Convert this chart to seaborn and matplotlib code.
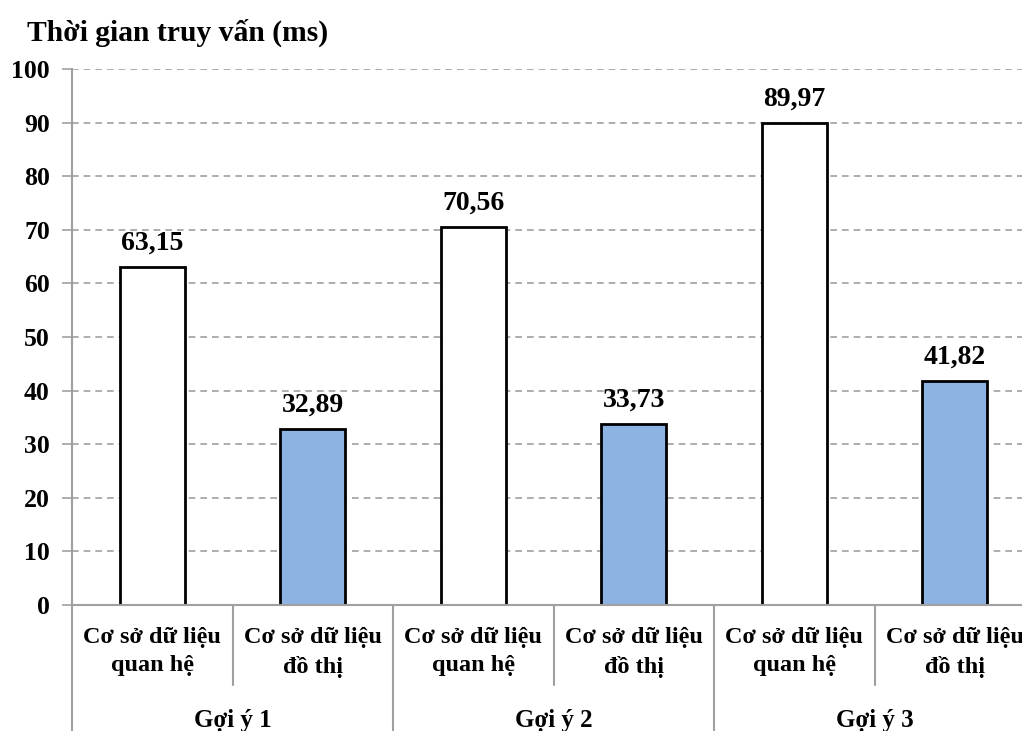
import matplotlib
matplotlib.use("Agg")
import matplotlib.pyplot as plt
import matplotlib.transforms as mtransforms
import seaborn as sns
import pandas as pd

# Query times (ms) for each hint and database type
groups = ["Gợi ý 1", "Gợi ý 2", "Gợi ý 3"]
db_types = ["Cơ sở dữ liệu\nquan hệ", "Cơ sở dữ liệu\nđồ thị"]
relational_ms = [63.15, 70.56, 89.97]
graph_ms = [32.89, 33.73, 41.82]
y_ticks = [0, 10, 20, 30, 40, 50, 60, 70, 80, 90, 100]

rows = []
for g, r, gr in zip(groups, relational_ms, graph_ms):
    rows.append({"key": g + "|" + db_types[0], "group": g, "db": db_types[0], "ms": r})
    rows.append({"key": g + "|" + db_types[1], "group": g, "db": db_types[1], "ms": gr})
df = pd.DataFrame(rows)

sns.set_theme(style="white")
plt.rcParams["font.family"] = ["Liberation Serif", "DejaVu Serif"]
plt.rcParams["font.weight"] = "bold"
plt.rcParams["text.color"] = "black"
plt.rcParams["ytick.color"] = "black"

fig = plt.figure(figsize=(10.22, 7.31), dpi=100)
ax = fig.add_axes([72 / 1022, 126 / 731, 963 / 1022, 536 / 731])

sns.barplot(
    data=df, x="key", y="ms", hue="db", dodge=False, saturation=1,
    palette={db_types[0]: "#FFFFFF", db_types[1]: "#8DB3E2"},
    edgecolor="black", linewidth=2.0, width=0.405, ax=ax, legend=False,
)

ax.set_ylim(0, 100)
ax.set_xlim(-0.5, len(df) - 0.5)
ax.set_yticks(y_ticks)
ax.set_yticklabels([str(t) for t in y_ticks], fontsize=18.5, fontweight="bold")
ax.tick_params(axis="y", length=7, width=1.2, color="#A0A0A0", pad=9,
               left=True, labelcolor="black")
ax.tick_params(axis="x", length=0, labelbottom=False)
ax.set_xlabel("")
ax.set_ylabel("")

for t in y_ticks[1:]:
    ax.axhline(t, color="#A0A0A0", linewidth=1.2, linestyle=(0, (4, 3)), zorder=0)

for side in ["top", "right"]:
    ax.spines[side].set_visible(False)
ax.spines["left"].set_color("#A0A0A0")
ax.spines["left"].set_linewidth(1.5)
ax.spines["bottom"].set_color("#A0A0A0")
ax.spines["bottom"].set_linewidth(1.5)

# Value labels above bars (decimal comma)
for patch in ax.patches:
    h = patch.get_height()
    if h <= 0:
        continue
    ax.annotate(f"{h:.2f}".replace(".", ","),
                (patch.get_x() + patch.get_width() / 2, h),
                xytext=(0, 8), textcoords="offset points", ha="center", va="bottom",
                fontsize=20, fontweight="bold", color="black")

# Two-level category axis
trans = mtransforms.blended_transform_factory(ax.transData, ax.transAxes)
px = 1 / 536  # one pixel in axes fraction (vertical)
for i, row in df.iterrows():
    ax.text(i, -22 * px, row["db"], transform=trans, ha="center", va="top",
            fontsize=17.5, fontweight="bold", linespacing=1.45, color="black")
for j, g in enumerate(groups):
    ax.text(2 * j + 0.5, -104 * px, g, transform=trans, ha="center", va="top",
            fontsize=18, fontweight="bold", color="black")

for k in range(len(df) + 1):
    x = k - 0.5
    y_end = -130 * px if k % 2 == 0 else -80 * px
    ax.plot([x, x], [0, y_end], transform=trans, color="#A0A0A0",
            linewidth=1.5, clip_on=False)

fig.text(27 / 1022, 1 - 41 / 731, "Thời gian truy vấn (ms)", ha="left",
         va="baseline", fontsize=21.3, fontweight="bold", color="black")

fig.savefig("out.png", dpi=100)
